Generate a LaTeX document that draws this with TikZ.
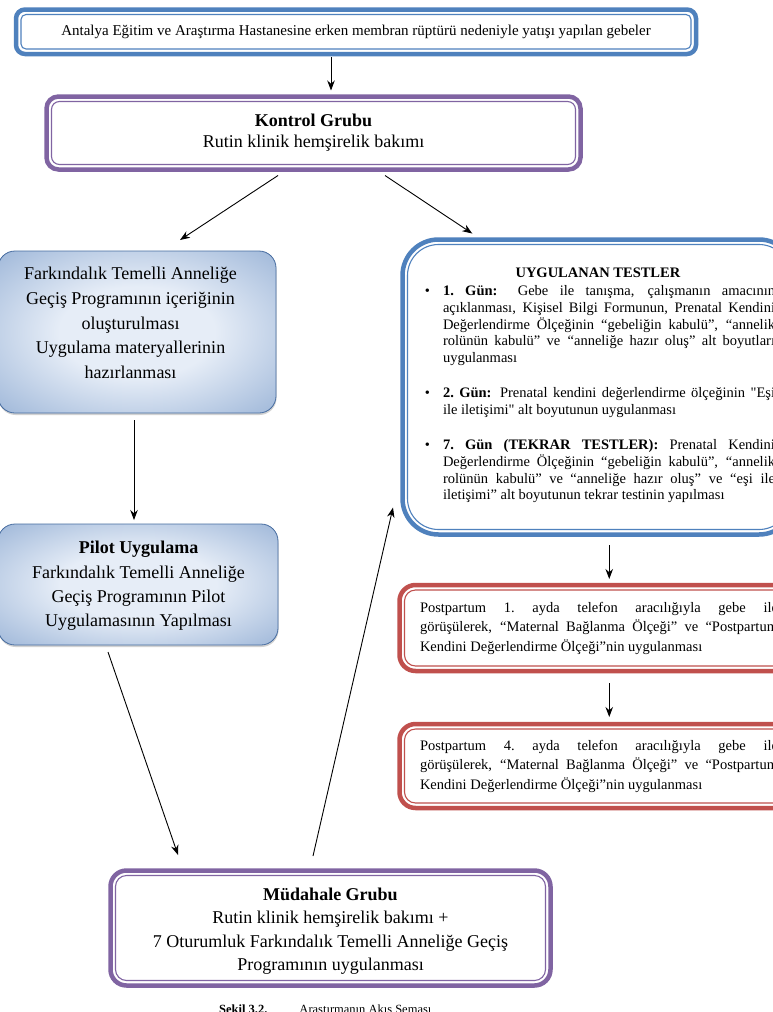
\documentclass[tikz,border=0pt]{standalone}
\usepackage{fontspec}
\setmainfont{Liberation Serif}
\usepackage{enumitem}
\usetikzlibrary{arrows.meta,shadows}
\definecolor{obl}{RGB}{79,129,189}
\definecolor{opu}{RGB}{128,100,162}
\definecolor{ore}{RGB}{192,80,77}
\definecolor{gdark}{RGB}{112,148,197}
\definecolor{glight}{RGB}{230,237,247}
\definecolor{gedge}{RGB}{70,108,160}
\pgfdeclareradialshading{gshade}{\pgfpoint{0bp}{0bp}}{color(0bp)=(glight); color(14bp)=(glight); color(50bp)=(gdark); color(70bp)=(gdark)}
\newcommand\dfr[4]{%
  \draw[#2, line width=4.5pt, rounded corners=#3] (#1.north west) rectangle (#1.south east);
  \draw[#2, line width=1.1pt, rounded corners=#4] ([shift={(5pt,-5pt)}]#1.north west) rectangle ([shift={(-5pt,5pt)}]#1.south east);}
\begin{document}
\begin{tikzpicture}[x=1pt,y=-1pt,
  box/.style={rectangle, inner sep=0pt, outer sep=0pt},
  txt/.style={inner sep=0pt, outer sep=0pt, align=center},
  jtxt/.style={inner sep=0pt, outer sep=0pt, align=justify, anchor=north west},
  arr/.style={-{Stealth[length=10pt,width=7.5pt]}, line width=0.9pt, black},
  gbox/.style={box, rounded corners=17pt, draw=gedge, line width=0.8pt, shading=gshade,
    drop shadow={shadow xshift=0.5pt, shadow yshift=-2pt, opacity=0.35}}]
\useasboundingbox (0,0) rectangle (773,1012);
\clip (0,0) rectangle (773,1012);
\fill[white] (0,0) rectangle (773,1012);

% boxes
\node[box, minimum width=680pt, minimum height=44.5pt, font=\fontsize{15}{18}\selectfont] (top) at (356,31.75)
  {Antalya Eğitim ve Araştırma Hastanesine erken membran rüptürü nedeniyle yatışı yapılan gebeler};
\dfr{top}{obl}{9pt}{5pt}

\node[box, txt, minimum width=534pt, minimum height=73pt, font=\fontsize{18}{21}\selectfont] (kon) at (313.5,133)
  {\textbf{Kontrol Grubu}\\Rutin klinik hemşirelik bakımı};
\dfr{kon}{opu}{12pt}{8pt}

\node[gbox, minimum width=278pt, minimum height=162pt] (l1) at (137,332) {};
\node[txt, font=\fontsize{18}{24.7}\selectfont] (l1t) at (130.5,323)
  {Farkındalık Temelli Anneliğe\\Geçiş Programının içeriğinin\\oluşturulması\\Uygulama materyallerinin\\hazırlanması};

\node[gbox, minimum width=280pt, minimum height=121pt] (l2) at (138,584.5) {};
\node[txt, font=\fontsize{18}{24.3}\selectfont] (l2t) at (138.5,586)
  {\textbf{Pilot Uygulama}\\Farkındalık Temelli Anneliğe\\Geçiş Programının Pilot\\Uygulamasının Yapılması};

\node[box, minimum width=392.5pt, minimum height=295pt] (uyg) at (598.75,387) {};
\dfr{uyg}{obl}{36pt}{31pt}
\node[jtxt, text width=354pt, font=\fontsize{14.5}{16.8}\selectfont] (uygt) at (421,268)
  {\makebox[\linewidth]{\textbf{UYGULANAN TESTLER}}\par
   \begin{itemize}[leftmargin=22pt, labelsep=13pt, itemsep=18.2pt, topsep=1pt, parsep=0pt, partopsep=0pt, label=\textbullet]
   \item \textbf{1.\ Gün:} Gebe ile tanışma, çalışmanın amacının\linebreak açıklanması, Kişisel Bilgi Formunun, Prenatal Kendini\linebreak Değerlendirme Ölçeğinin “gebeliğin kabulü”, “annelik\linebreak rolünün kabulü” ve\enspace“anneliğe hazır oluş” alt boyutları\linebreak uygulanması
   \item \textbf{2.\ Gün:} Prenatal kendini değerlendirme ölçeğinin \textquotedbl Eşi\linebreak ile iletişimi\textquotedbl{} alt boyutunun uygulanması
   \item \textbf{7.\ Gün (TEKRAR TESTLER):} Prenatal Kendini\linebreak Değerlendirme Ölçeğinin “gebeliğin kabulü”, “annelik\linebreak rolünün kabulü” ve\enspace“anneliğe hazır oluş” ve “eşi ile\linebreak iletişimi” alt boyutunun tekrar testinin yapılması
   \end{itemize}};

\node[box, minimum width=395.5pt, minimum height=86pt] (r1) at (597.25,628) {};
\dfr{r1}{ore}{16pt}{11pt}
\node[jtxt, text width=358pt, font=\fontsize{14.5}{19.7}\selectfont] (r1t) at (420,602)
  {Postpartum 1.\ ayda telefon aracılığıyla gebe ile\linebreak görüşülerek, “Maternal Bağlanma Ölçeği” ve “Postpartum\linebreak Kendini Değerlendirme Ölçeği”nin uygulanması};

\node[box, minimum width=395.5pt, minimum height=84pt] (r2) at (597.25,766) {};
\dfr{r2}{ore}{16pt}{11pt}
\node[jtxt, text width=358pt, font=\fontsize{14.5}{19.7}\selectfont] (r2t) at (420,740)
  {Postpartum 4.\ ayda telefon aracılığıyla gebe ile\linebreak görüşülerek, “Maternal Bağlanma Ölçeği” ve “Postpartum\linebreak Kendini Değerlendirme Ölçeği”nin uygulanması};

\node[box, minimum width=440pt, minimum height=115pt] (mud) at (330.5,928) {};
\dfr{mud}{opu}{16pt}{11pt}
\node[txt, font=\fontsize{18}{23.5}\selectfont] (mudt) at (330.5,931)
  {\textbf{Müdahale Grubu}\\Rutin klinik hemşirelik bakımı +\\7 Oturumluk Farkındalık Temelli Anneliğe Geçiş\\Programının uygulanması};

\node[inner sep=0pt, anchor=base west, font=\fontsize{12.5}{14}\selectfont] (cap) at (219,1013)
  {\textbf{Şekil 3.2.}\hspace{32pt}Araştırmanın Akış Şeması};

% connectors
\draw[arr] ([xshift=-25pt,yshift=-3pt]top.south) -- ([xshift=17.5pt,yshift=6pt]kon.north);
\draw[arr] ([xshift=-35.5pt,yshift=-6pt]kon.south) -- ([xshift=43pt,yshift=11pt]l1.north);
\draw[arr] ([xshift=71.5pt,yshift=-6pt]kon.south) -- ([xshift=-126.5pt,yshift=6pt]uyg.north);
\draw[arr] ([xshift=-3pt,yshift=-7pt]l1.south) -- ([xshift=-4pt,yshift=4pt]l2.north);
\draw[arr] ([xshift=-30pt,yshift=-7pt]l2.south) -- ([xshift=-152.5pt,yshift=15.5pt]mud.north);
\draw[arr] ([xshift=-17.5pt,yshift=14.5pt]mud.north) -- ([xshift=-9.5pt,yshift=27pt]uyg.south west);
\draw[arr] ([xshift=10.5pt,yshift=-10.5pt]uyg.south) -- ([xshift=12pt,yshift=6pt]r1.north);
\draw[arr] ([xshift=12pt,yshift=-12pt]r1.south) -- ([xshift=12pt,yshift=7pt]r2.north);
\end{tikzpicture}
\end{document}
